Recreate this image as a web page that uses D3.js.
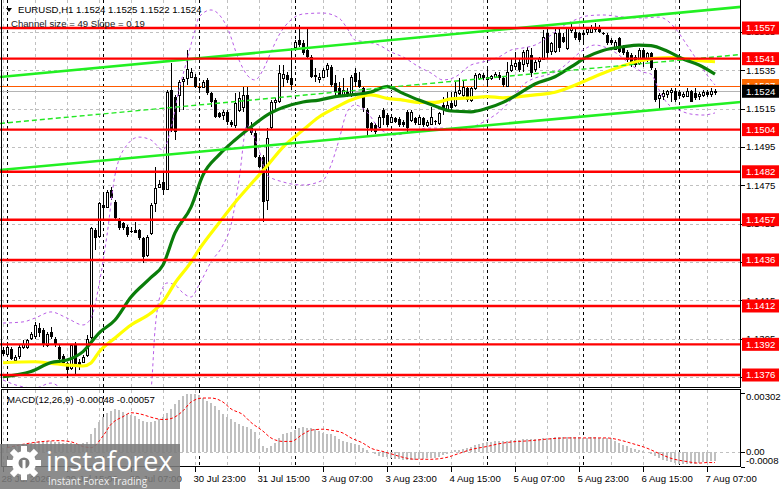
<!DOCTYPE html>
<html>
<head>
<meta charset="utf-8">
<script src="https://cdn.jsdelivr.net/npm/d3@7"></script>
<style>
  body { margin: 0; background: #fff; }
  svg { display: block; font-family: "Liberation Sans", Arial, sans-serif; }
</style>
</head>
<body>
<svg id="chart" width="781" height="489"></svg>
<script>
// EURUSD H1 bars, 28 Jul 23:00 .. 7 Aug 09:00
const open = [
  1.13890,1.13872,1.13895,1.13841,1.13858,1.13907,1.13907,1.13950,1.13963,1.14003,
  1.13994,1.13916,1.13985,1.13950,1.13907,1.13858,1.13820,1.13794,1.13924,1.13829,
  1.13829,1.13864,1.13959,1.14516,1.14481,1.14647,1.14638,1.14725,1.14664,1.14572,
  1.14551,1.14533,1.14509,1.14516,1.14516,1.14473,1.14386,1.14499,1.14655,1.14742,
  1.14768,1.14734,1.15247,1.15212,1.15221,1.15290,1.15308,1.15316,1.15316,1.15264,
  1.15264,1.15299,1.15229,1.15194,1.15125,1.15116,1.15133,1.15081,1.15064,1.15142,
  1.15159,1.15220,1.15046,1.15020,1.14898,1.14898,1.14672,1.15055,1.15182,1.15186,
  1.15307,1.15325,1.15307,1.15473,1.15508,1.15490,1.15455,1.15420,1.15325,1.15307,
  1.15316,1.15356,1.15368,1.15281,1.15255,1.15220,1.15238,1.15220,1.15333,1.15299,
  1.15255,1.15142,1.15072,1.15064,1.15055,1.15142,1.15116,1.15081,1.15099,1.15094,
  1.15081,1.15133,1.15090,1.15099,1.15072,1.15099,1.15064,1.15072,1.15085,1.15072,
  1.15168,1.15142,1.15177,1.15168,1.15229,1.15220,1.15255,1.15194,1.15255,1.15307,
  1.15325,1.15316,1.15307,1.15311,1.15325,1.15311,1.15269,1.15351,1.15368,1.15394,
  1.15386,1.15386,1.15429,1.15360,1.15394,1.15412,1.15542,1.15447,1.15447,1.15542,
  1.15525,1.15464,1.15559,1.15551,1.15542,1.15538,1.15551,1.15551,1.15565,1.15577,
  1.15542,1.15533,1.15507,1.15464,1.15516,1.15472,1.15446,1.15429,1.15420,1.15385,
  1.15455,1.15412,1.15438,1.15351,1.15203,1.15211,1.15224,1.15234,1.15241,1.15234,
  1.15211,1.15217,1.15241,1.15229,1.15211,1.15220,1.15238,1.15224,1.15240
]
const high = [
  1.13904,1.13924,1.13907,1.13864,1.13916,1.13942,1.13950,1.13985,1.14037,1.14029,
  1.14003,1.13985,1.14011,1.13959,1.13916,1.13872,1.13829,1.13924,1.13933,1.13846,
  1.13864,1.13968,1.14533,1.14525,1.14664,1.14707,1.14725,1.14742,1.14673,1.14577,
  1.14560,1.14542,1.14533,1.14560,1.14520,1.14481,1.14490,1.14655,1.14847,1.14777,
  1.14812,1.15247,1.15386,1.15221,1.15299,1.15316,1.15456,1.15360,1.15328,1.15281,
  1.15299,1.15307,1.15238,1.15203,1.15133,1.15142,1.15142,1.15090,1.15229,1.15238,
  1.15264,1.15264,1.15081,1.15038,1.14907,1.14907,1.15046,1.15194,1.15203,1.15377,
  1.15377,1.15342,1.15464,1.15508,1.15586,1.15508,1.15568,1.15429,1.15360,1.15333,
  1.15360,1.15386,1.15377,1.15325,1.15290,1.15307,1.15255,1.15325,1.15360,1.15342,
  1.15264,1.15151,1.15081,1.15072,1.15116,1.15151,1.15125,1.15116,1.15107,1.15107,
  1.15090,1.15142,1.15142,1.15107,1.15116,1.15107,1.15090,1.15159,1.15090,1.15133,
  1.15212,1.15238,1.15238,1.15290,1.15307,1.15299,1.15264,1.15264,1.15333,1.15333,
  1.15333,1.15360,1.15325,1.15342,1.15342,1.15316,1.15394,1.15412,1.15447,1.15412,
  1.15455,1.15473,1.15464,1.15403,1.15420,1.15560,1.15568,1.15499,1.15568,1.15568,
  1.15542,1.15577,1.15603,1.15568,1.15551,1.15551,1.15577,1.15586,1.15594,1.15586,
  1.15551,1.15542,1.15516,1.15507,1.15525,1.15481,1.15455,1.15438,1.15429,1.15464,
  1.15464,1.15446,1.15446,1.15359,1.15229,1.15246,1.15246,1.15255,1.15255,1.15246,
  1.15238,1.15255,1.15246,1.15255,1.15234,1.15246,1.15246,1.15255,1.15250
]
const low = [
  1.13858,1.13864,1.13837,1.13820,1.13846,1.13898,1.13898,1.13942,1.13950,1.13959,
  1.13907,1.13907,1.13950,1.13907,1.13820,1.13811,1.13742,1.13785,1.13760,1.13785,
  1.13820,1.13855,1.13950,1.14412,1.14473,1.14586,1.14629,1.14673,1.14568,1.14516,
  1.14516,1.14481,1.14499,1.14499,1.14464,1.14342,1.14377,1.14490,1.14612,1.14734,
  1.14699,1.14725,1.15029,1.14986,1.15134,1.15142,1.15273,1.15307,1.15255,1.15229,
  1.15255,1.15220,1.15159,1.15099,1.15099,1.15090,1.15064,1.15055,1.15046,1.15133,
  1.15133,1.15038,1.15012,1.14890,1.14838,1.14559,1.14620,1.15038,1.15133,1.15177,
  1.15264,1.15281,1.15246,1.15464,1.15473,1.15429,1.15412,1.15307,1.15290,1.15281,
  1.15307,1.15316,1.15264,1.15220,1.15212,1.15212,1.15212,1.15212,1.15264,1.15255,
  1.15133,1.15003,1.15029,1.15015,1.15046,1.15064,1.15055,1.15072,1.15072,1.15055,
  1.15055,1.15029,1.15081,1.15064,1.15064,1.15055,1.15055,1.15064,1.15064,1.15064,
  1.15116,1.15133,1.15133,1.15159,1.15220,1.15203,1.15186,1.15186,1.15246,1.15299,
  1.15299,1.15264,1.15299,1.15307,1.15299,1.15264,1.15264,1.15342,1.15351,1.15342,
  1.15342,1.15368,1.15316,1.15342,1.15360,1.15403,1.15412,1.15429,1.15438,1.15446,
  1.15490,1.15455,1.15542,1.15507,1.15499,1.15499,1.15533,1.15542,1.15551,1.15542,
  1.15533,1.15481,1.15481,1.15455,1.15438,1.15429,1.15394,1.15368,1.15368,1.15377,
  1.15368,1.15394,1.15351,1.15185,1.15142,1.15194,1.15203,1.15185,1.15185,1.15206,
  1.15203,1.15211,1.15185,1.15194,1.15194,1.15211,1.15211,1.15211,1.15220
]
const close = [
  1.13869,1.13907,1.13846,1.13855,1.13907,1.13924,1.13942,1.13973,1.14020,1.13977,
  1.13916,1.13973,1.13959,1.13916,1.13846,1.13820,1.13785,1.13916,1.13803,1.13806,
  1.13855,1.13950,1.14525,1.14473,1.14655,1.14629,1.14716,1.14681,1.14577,1.14525,
  1.14525,1.14490,1.14506,1.14502,1.14473,1.14377,1.14481,1.14647,1.14734,1.14756,
  1.14725,1.15238,1.15038,1.15029,1.15290,1.15302,1.15355,1.15342,1.15264,1.15260,
  1.15290,1.15229,1.15186,1.15107,1.15107,1.15133,1.15081,1.15064,1.15177,1.15203,
  1.15220,1.15046,1.15020,1.14898,1.14846,1.14664,1.14994,1.15186,1.15194,1.15333,
  1.15328,1.15299,1.15273,1.15499,1.15481,1.15438,1.15420,1.15316,1.15316,1.15316,
  1.15351,1.15377,1.15273,1.15238,1.15220,1.15246,1.15220,1.15316,1.15290,1.15264,
  1.15151,1.15046,1.15038,1.15026,1.15107,1.15099,1.15064,1.15107,1.15081,1.15064,
  1.15064,1.15046,1.15133,1.15072,1.15107,1.15064,1.15081,1.15107,1.15081,1.15125,
  1.15142,1.15168,1.15151,1.15238,1.15246,1.15264,1.15194,1.15259,1.15325,1.15328,
  1.15307,1.15299,1.15320,1.15328,1.15307,1.15273,1.15342,1.15377,1.15386,1.15351,
  1.15447,1.15455,1.15333,1.15394,1.15412,1.15525,1.15438,1.15490,1.15542,1.15464,
  1.15499,1.15568,1.15570,1.15516,1.15507,1.15542,1.15565,1.15577,1.15577,1.15551,
  1.15540,1.15490,1.15490,1.15499,1.15446,1.15438,1.15403,1.15385,1.15377,1.15455,
  1.15403,1.15438,1.15359,1.15194,1.15220,1.15229,1.15241,1.15246,1.15194,1.15217,
  1.15224,1.15241,1.15185,1.15206,1.15224,1.15234,1.15220,1.15241,1.15240
]

// moving averages, read at sample bars
const greenMaBars = [0,7,12,16,20,24,28,32,37,40,43,47,50,54,58,62,66,70,75,79,83,87,92,96,100,104,108,112,117,121,125,129,133,138,142,146,150,155,159,162,166,170,174,178]
const greenMaVals = [1.13751,1.13778,1.13825,1.13838,1.13882,1.13979,1.14047,1.14167,1.14269,1.14334,1.14501,1.14636,1.14803,1.14908,1.14986,1.15054,1.15116,1.15155,1.15184,1.15194,1.15212,1.15221,1.15236,1.15264,1.15229,1.15194,1.15163,1.15137,1.15133,1.15151,1.15182,1.15228,1.15278,1.15316,1.15367,1.15419,1.15453,1.15472,1.15481,1.15478,1.15450,1.15408,1.15377,1.15329]
const yellowMaBars = [0,8,12,16,20,22,24,28,32,37,40,43,47,49,54,58,62,66,70,75,79,83,87,92,96,100,104,108,112,117,121,125,129,133,138,142,146,150,155,159,163,167,171,175,178]
const yellowMaVals = [1.13824,1.13829,1.13821,1.13812,1.13807,1.13823,1.13880,1.13953,1.14021,1.14083,1.14142,1.14240,1.14349,1.14414,1.14553,1.14660,1.14756,1.14850,1.14949,1.15038,1.15106,1.15153,1.15194,1.15221,1.15203,1.15194,1.15182,1.15182,1.15200,1.15206,1.15212,1.15206,1.15212,1.15221,1.15235,1.15264,1.15299,1.15334,1.15373,1.15398,1.15412,1.15415,1.15408,1.15398,1.15394]

// bands (purple dashed)
const upperBandBars = [0,5,8,12,16,20,22,24,26,28,31,34,37,40,42,44,46,48,49,52,56,59,61,63,65,67,69,72,75,80,84,86,88,91,94,97,100,104,107,110,113,117,120,124,127,130,133,137,140,143,146,150,155,160,164,168,171,174,176,178]
const upperBandVals = [1.14031,1.14037,1.14057,1.14089,1.14057,1.14021,1.14057,1.14230,1.14490,1.14803,1.14960,1.15001,1.14986,1.14934,1.15048,1.15247,1.15403,1.15560,1.15627,1.15664,1.15575,1.15403,1.15325,1.15299,1.15351,1.15445,1.15533,1.15612,1.15643,1.15648,1.15622,1.15570,1.15507,1.15497,1.15481,1.15445,1.15419,1.15367,1.15335,1.15299,1.15314,1.15377,1.15393,1.15419,1.15455,1.15466,1.15481,1.15533,1.15580,1.15612,1.15633,1.15638,1.15627,1.15622,1.15627,1.15570,1.15481,1.15387,1.15325,1.15273]
const lowerBandBars = [0,4,8,12,16,20,24,30,35,37,38,39,41,43,45,47,49,52,55,57,59,61,62,64,66,70,75,80,82,84,86,88,91,94,98,102,106,110,114,118,121,124,127,130,133,136,139,142,145,148,151,154,157,160,162,164,166,169,172,175,178]
const lowerBandVals = [1.13734,1.13703,1.13692,1.13718,1.13671,1.13656,1.13473,1.13421,1.13551,1.13682,1.13995,1.14151,1.14240,1.14230,1.14188,1.14167,1.14230,1.14349,1.14438,1.14542,1.14777,1.15064,1.15038,1.14934,1.14803,1.14767,1.14751,1.14777,1.14855,1.14986,1.15132,1.15168,1.15132,1.15048,1.15012,1.15028,1.15048,1.15048,1.15038,1.15059,1.15090,1.15132,1.15194,1.15273,1.15309,1.15325,1.15351,1.15403,1.15455,1.15481,1.15466,1.15429,1.15377,1.15340,1.15330,1.15247,1.15179,1.15142,1.15121,1.15116,1.15127]

// regression channel: ends at bar -0.75 and 184.5
const channelBars = [-0.75, 184.5]
const channelUpper = [1.15314, 1.15680]
const channelMiddle = [1.15072, 1.15432]
const channelLower = [1.14829, 1.15184]

const levels = [1.1557, 1.1541, 1.1504, 1.1482, 1.1457, 1.1436, 1.1412, 1.1392, 1.1376]
const priceTicks = [1.1555, 1.1535, 1.1515, 1.1495, 1.1475, 1.1455, 1.1435, 1.1415, 1.1395, 1.1375]
const askLevel = 1.1527
const bidLevel = 1.1524

// MACD(12,26,9)
const macdHist = [
  0.00020,0.00022,0.00024,0.00026,0.00030,0.00035,0.00040,0.00045,0.00050,0.00052,
  0.00053,0.00054,0.00053,0.00050,0.00047,0.00045,0.00042,0.00042,0.00040,0.00040,
  0.00042,0.00050,0.00089,0.00120,0.00150,0.00180,0.00200,0.00210,0.00220,0.00215,
  0.00205,0.00195,0.00190,0.00184,0.00170,0.00155,0.00150,0.00150,0.00157,0.00170,
  0.00180,0.00200,0.00220,0.00245,0.00265,0.00285,0.00295,0.00298,0.00297,0.00290,
  0.00275,0.00262,0.00252,0.00236,0.00215,0.00195,0.00180,0.00167,0.00152,0.00142,
  0.00132,0.00125,0.00118,0.00100,0.00065,0.00030,0.00020,0.00028,0.00045,0.00070,
  0.00088,0.00095,0.00102,0.00112,0.00120,0.00125,0.00123,0.00120,0.00114,0.00105,
  0.00096,0.00092,0.00088,0.00080,0.00066,0.00056,0.00050,0.00045,0.00038,0.00035,
  0.00020,0.00008,-0.00005,-0.00015,-0.00022,-0.00028,-0.00030,-0.00033,-0.00038,-0.00040,
  -0.00042,-0.00044,-0.00043,-0.00042,-0.00040,-0.00038,-0.00036,-0.00035,-0.00032,-0.00028,
  -0.00020,-0.00012,-0.00002,0.00006,0.00010,0.00014,0.00018,0.00025,0.00032,0.00038,
  0.00044,0.00049,0.00050,0.00052,0.00052,0.00053,0.00055,0.00058,0.00060,0.00061,
  0.00062,0.00063,0.00062,0.00063,0.00065,0.00068,0.00070,0.00072,0.00074,0.00075,
  0.00075,0.00076,0.00076,0.00074,0.00073,0.00072,0.00072,0.00073,0.00073,0.00072,
  0.00070,0.00068,0.00062,0.00052,0.00044,0.00036,0.00030,0.00020,0.00012,0.00006,
  0.00002,-0.00004,-0.00012,-0.00025,-0.00036,-0.00044,-0.00050,-0.00055,-0.00060,-0.00062,
  -0.00063,-0.00064,-0.00064,-0.00062,-0.00060,-0.00056,-0.00053,-0.00050,-0.00048
]
const signalBars = [1,8,14,17,20,22,25,27,30,32,35,37,40,42,45,47,50,52,55,57,60,62,65,67,70,72,75,77,80,82,85,87,90,92,95,97,100,103,107,111,114,117,121,124,127,132,136,141,146,151,154,157,161,164,167,171,174,176,178]
const signalVals = [0.00020,0.00047,0.00056,0.00050,0.00026,0.00020,0.00080,0.00140,0.00180,0.00200,0.00190,0.00177,0.00165,0.00170,0.00210,0.00255,0.00276,0.00276,0.00255,0.00220,0.00190,0.00150,0.00105,0.00070,0.00052,0.00052,0.00090,0.00110,0.00115,0.00110,0.00095,0.00070,0.00043,0.00017,0.00000,-0.00012,-0.00030,-0.00040,-0.00040,-0.00030,-0.00010,0.00010,0.00026,0.00040,0.00049,0.00056,0.00064,0.00070,0.00070,0.00070,0.00060,0.00043,0.00017,-0.00010,-0.00035,-0.00052,-0.00060,-0.00057,-0.00057]
const macdTicks = [0.00302, 0, -0.0008]
const macdTickLabels = ['0.00302', '0.00', '-0.0008']

// time axis
const labelBars = [0, 16, 32, 48, 64, 80, 96, 112, 128, 144, 160, 176]
const timeLabels = ['28 Jul 2026', '29 Jul 15:00', '30 Jul 07:00', '30 Jul 23:00', '31 Jul 15:00', '3 Aug 07:00',
  '3 Aug 23:00', '4 Aug 15:00', '5 Aug 07:00', '5 Aug 23:00', '6 Aug 15:00', '7 Aug 07:00']
const daySepBars = [1, 25, 49, 73, 97, 121, 145, 169]
const gridBars = [0, 8, 16, 24, 32, 40, 48, 56, 64, 72, 80, 88, 96, 104, 112, 120, 128, 136, 144, 152, 160, 168, 176]

const svg = d3.select('#chart')
const box = { right: 741, bottom: 388, macdTop: 390, macdBottom: 467 }

const x = d3.scaleLinear().domain([0, 178]).range([3, 715])
const y = d3.scaleLinear().domain([1.1376, 1.1557]).range([375, 28])
const ym = d3.scaleLinear().domain([-0.0008, 0.00302]).range([467, 393])
const px = v => Math.round(v) + 0.5
const fmt = d3.format('.4f')

const defs = svg.append('defs')
defs.append('clipPath').attr('id', 'clip-main')
  .append('rect').attr('x', 0).attr('y', 0).attr('width', box.right).attr('height', box.bottom)
defs.append('clipPath').attr('id', 'clip-macd')
  .append('rect').attr('x', 0).attr('y', box.macdTop).attr('width', box.right).attr('height', box.macdBottom - box.macdTop)

const main = svg.append('g').attr('clip-path', 'url(#clip-main)')
const macd = svg.append('g').attr('clip-path', 'url(#clip-macd)')

// grid
const drawVerticals = (g, y1, y2) => {
  g.append('g').selectAll('line').data(gridBars).join('line')
    .attr('x1', d => px(x(d))).attr('x2', d => px(x(d)))
    .attr('y1', y1).attr('y2', y2)
    .attr('stroke', '#c0c0c0').attr('stroke-dasharray', '3,3')
  g.append('g').selectAll('line').data(daySepBars).join('line')
    .attr('x1', d => px(x(d))).attr('x2', d => px(x(d)))
    .attr('y1', y1).attr('y2', y2)
    .attr('stroke', '#000').attr('stroke-dasharray', '3,3')
}

main.append('g').selectAll('line').data(priceTicks).join('line')
  .attr('x1', 0).attr('x2', box.right)
  .attr('y1', d => px(y(d))).attr('y2', d => px(y(d)))
  .attr('stroke', '#c0c0c0').attr('stroke-dasharray', '3,3')
drawVerticals(main, 0, box.bottom)
drawVerticals(macd, box.macdTop, box.macdBottom)

// bid / ask lines
main.append('line')
  .attr('x1', 0).attr('x2', box.right)
  .attr('y1', px(y(bidLevel))).attr('y2', px(y(bidLevel)))
  .attr('stroke', '#b4b4b4')
main.append('line')
  .attr('x1', 0).attr('x2', box.right)
  .attr('y1', px(y(askLevel))).attr('y2', px(y(askLevel)))
  .attr('stroke', '#ff5a00')

// candles
const bars = d3.range(open.length)
const candles = main.append('g').attr('shape-rendering', 'crispEdges')
candles.selectAll('line').data(bars).join('line')
  .attr('x1', i => px(x(i))).attr('x2', i => px(x(i)))
  .attr('y1', i => y(high[i])).attr('y2', i => y(low[i]))
  .attr('stroke', '#000')
candles.selectAll('rect.bear').data(bars.filter(i => close[i] < open[i])).join('rect')
  .attr('class', 'bear')
  .attr('x', i => Math.round(x(i)) - 1).attr('width', 3)
  .attr('y', i => y(open[i]))
  .attr('height', i => Math.max(1, y(close[i]) - y(open[i])))
  .attr('fill', '#000')
candles.selectAll('rect.bull').data(bars.filter(i => close[i] >= open[i])).join('rect')
  .attr('class', 'bull')
  .attr('x', i => Math.round(x(i)) - 0.5).attr('width', 2)
  .attr('y', i => Math.round(y(close[i])) + 0.5)
  .attr('height', i => Math.max(1, Math.round(y(open[i]) - y(close[i]))))
  .attr('fill', '#fff').attr('stroke', '#000')

// bands
const sampled = (bs, vs) => bs.map((b, k) => [b, vs[k]])
const priceLine = d3.line().x(d => x(d[0])).y(d => y(d[1])).curve(d3.curveMonotoneX)
;[[upperBandBars, upperBandVals], [lowerBandBars, lowerBandVals]].forEach(([bs, vs]) => {
  main.append('path')
    .datum(sampled(bs, vs))
    .attr('d', priceLine)
    .attr('fill', 'none')
    .attr('stroke', '#b85ce6')
    .attr('stroke-dasharray', '3,3')
})

// moving averages
main.append('path')
  .datum(sampled(yellowMaBars, yellowMaVals))
  .attr('d', priceLine)
  .attr('fill', 'none').attr('stroke', '#ffff00').attr('stroke-width', 3.2)
main.append('path')
  .datum(sampled(greenMaBars, greenMaVals))
  .attr('d', priceLine)
  .attr('fill', 'none').attr('stroke', '#0a7d0a').attr('stroke-width', 3.2)

// channel
const straight = d3.line().x(d => x(d[0])).y(d => y(d[1]))
main.append('path').datum(sampled(channelBars, channelMiddle)).attr('d', straight)
  .attr('stroke', '#22e822').attr('stroke-width', 1.4).attr('stroke-dasharray', '5,3').attr('fill', 'none')
;[channelUpper, channelLower].forEach(vs => {
  main.append('path').datum(sampled(channelBars, vs)).attr('d', straight)
    .attr('stroke', '#22f022').attr('stroke-width', 2.6).attr('fill', 'none')
})

// levels
main.append('g').selectAll('line').data(levels).join('line')
  .attr('x1', 0).attr('x2', box.right)
  .attr('y1', d => y(d)).attr('y2', d => y(d))
  .attr('stroke', '#ff0000').attr('stroke-width', 2.4)

// MACD
macd.append('line')
  .attr('x1', 0).attr('x2', box.right)
  .attr('y1', px(ym(0))).attr('y2', px(ym(0)))
  .attr('stroke', '#c0c0c0').attr('stroke-dasharray', '3,3')
macd.append('g').attr('shape-rendering', 'crispEdges')
  .selectAll('rect').data(bars).join('rect')
  .attr('x', i => Math.round(x(i)) - 1).attr('width', 2)
  .attr('y', i => Math.min(ym(0), ym(macdHist[i])))
  .attr('height', i => Math.abs(ym(macdHist[i]) - ym(0)))
  .attr('fill', '#c0c0c0')
macd.append('path')
  .datum(sampled(signalBars, signalVals))
  .attr('d', d3.line().x(d => x(d[0])).y(d => ym(d[1])).curve(d3.curveMonotoneX))
  .attr('fill', 'none').attr('stroke', '#ff0000').attr('stroke-dasharray', '3,2')

// frames
const frame = svg.append('g').attr('stroke', '#000').attr('fill', 'none').attr('shape-rendering', 'crispEdges')
frame.append('path').attr('d', `M1.5,0V${box.bottom - 0.5}H${box.right - 0.5}V0`)
frame.append('rect').attr('x', 1.5).attr('y', box.macdTop - 0.5)
  .attr('width', box.right - 2).attr('height', box.macdBottom - box.macdTop)

// price axis
const axis = svg.append('g').attr('font-size', 9.6)
axis.selectAll('line').data(priceTicks).join('line')
  .attr('x1', box.right).attr('x2', box.right + 4)
  .attr('y1', d => px(y(d))).attr('y2', d => px(y(d)))
  .attr('stroke', '#000')
axis.selectAll('text.tick').data(priceTicks).join('text')
  .attr('class', 'tick')
  .attr('x', 746).attr('y', d => y(d)).attr('dy', '0.36em')
  .text(fmt)

const tag = (value, color) => {
  const g = axis.append('g')
  g.append('rect').attr('x', 742).attr('y', y(value) - 6.5).attr('width', 37).attr('height', 13).attr('fill', color)
  g.append('text').attr('x', 746).attr('y', y(value)).attr('dy', '0.36em').attr('fill', '#fff').text(fmt(value))
}
levels.forEach(v => tag(v, '#ff0000'))
tag(askLevel, '#ff6a00')
tag(bidLevel, '#000')

// MACD axis
axis.selectAll('line.m').data(macdTicks).join('line')
  .attr('class', 'm')
  .attr('x1', box.right).attr('x2', box.right + 4)
  .attr('y1', d => px(ym(d))).attr('y2', d => px(ym(d)))
  .attr('stroke', '#000')
axis.selectAll('text.m').data(macdTicks).join('text')
  .attr('class', 'm')
  .attr('x', 746).attr('y', (d, k) => ym(d) + [6.5, 3, -3][k])
  .text((d, k) => macdTickLabels[k])

// time axis
const taxis = svg.append('g').attr('font-size', 9.6)
taxis.selectAll('line').data(labelBars).join('line')
  .attr('x1', d => px(x(d))).attr('x2', d => px(x(d)))
  .attr('y1', box.macdBottom).attr('y2', box.macdBottom + 5)
  .attr('stroke', '#000')
taxis.selectAll('text').data(labelBars).join('text')
  .attr('x', d => x(d) - 1.5).attr('y', 482)
  .text((d, k) => timeLabels[k])

// titles
svg.append('path').attr('d', 'M6,8H12L9,12Z').attr('fill', '#000')
svg.append('text').attr('x', 18).attr('y', 13).attr('font-size', 9.6)
  .text('EURUSD,H1  1.1524 1.1525 1.1522 1.1524')
svg.append('text').attr('x', 11).attr('y', 27).attr('font-size', 9.6).attr('fill', '#1a1a1a')
  .text('Channel size = 49 Slope = 0.19')
svg.append('text').attr('x', 7).attr('y', 403).attr('font-size', 9.6)
  .text('MACD(12,26,9) -0.00048 -0.00057')

// watermark
const logo = svg.append('g')
logo.append('rect').attr('x', 0).attr('y', 444).attr('width', 180).attr('height', 45)
  .attr('fill', '#7c7c7c').attr('opacity', 0.88)
const gear = logo.append('g').attr('transform', 'translate(24,463)')
gear.selectAll('rect').data(d3.range(8)).join('rect')
  .attr('x', -3).attr('y', -17).attr('width', 6).attr('height', 8)
  .attr('fill', '#fff')
  .attr('transform', d => `rotate(${d * 45})`)
gear.append('circle').attr('r', 12).attr('fill', '#fff')
gear.append('circle').attr('r', 5.5).attr('fill', '#7c7c7c')
gear.append('rect').attr('x', -1.5).attr('y', -3).attr('width', 3).attr('height', 15).attr('fill', '#fff')
logo.append('text').attr('x', 46).attr('y', 471)
  .attr('font-family', '"Open Sans", sans-serif').attr('font-size', 27).attr('fill', '#fff')
  .text('instaforex')
logo.append('text').attr('x', 48).attr('y', 485)
  .attr('font-family', '"Open Sans", sans-serif').attr('font-size', 10).attr('fill', '#f0f0f0')
  .text('Instant Forex Trading')
</script>
</body>
</html>
